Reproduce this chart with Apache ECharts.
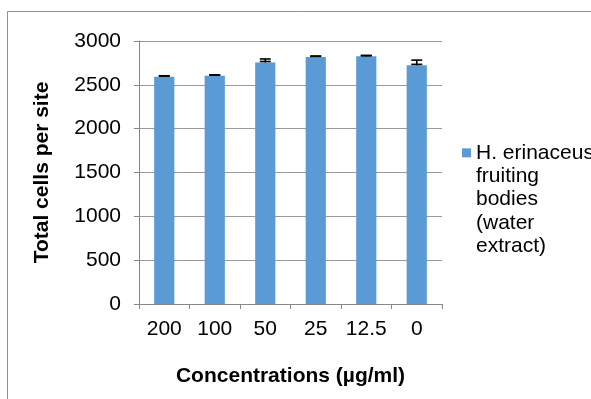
<!DOCTYPE html>
<html>
<head>
<meta charset="utf-8">
<script src="https://cdn.jsdelivr.net/npm/echarts@6/dist/echarts.min.js"></script>
<style>
html,body{margin:0;padding:0;background:#fff;}
#chart{width:591px;height:399px;}
</style>
</head>
<body>
<div id="chart"></div>
<script>
const categories = ['200', '100', '50', '25', '12.5', '0'];
const cellValues = [2592, 2603, 2755, 2817, 2825, 2722];
const cellErrors = [8, 8, 40, 8, 6, 60];
const yTicks = { min: 0, max: 3000, interval: 500 };
const seriesName = 'H. erinaceus fruiting bodies (water extract)';
const legendLines = ['H. erinaceus', 'fruiting', 'bodies', '(water', 'extract)'];

const FONT = 'Liberation Sans, Arial, sans-serif';
const chart = echarts.init(document.getElementById('chart'), null, { renderer: 'canvas' });

const errData = categories.map((c, i) => [i, cellValues[i], cellValues[i] + cellErrors[i]]);
const LH = 23.3;

const option = {
  animation: false,
  backgroundColor: '#fff',
  graphic: [{
    type: 'rect',
    shape: { x: 7.5, y: 11.5, width: 640, height: 450 },
    style: { fill: 'none', stroke: '#8e8e8e', lineWidth: 1 },
    silent: true,
    z: -1
  }],
  grid: { left: 139, right: 149, top: 41, bottom: 95 },
  legend: {
    orient: 'vertical',
    left: 462,
    top: 48,
    padding: 0,
    itemWidth: 9,
    itemHeight: 9,
    icon: 'rect',
    data: [seriesName],
    formatter: () => ' \n \n \n \n' + legendLines.join('\n'),
    textStyle: {
      fontFamily: FONT,
      fontSize: 21,
      lineHeight: LH,
      color: '#000'
    }
  },
  xAxis: {
    type: 'category',
    data: categories,
    name: 'Concentrations (µg/ml)',
    nameLocation: 'middle',
    nameGap: 62,
    nameTextStyle: { fontFamily: FONT, fontSize: 21, fontWeight: 'bold', color: '#000' },
    axisLine: { lineStyle: { color: '#888', width: 1 } },
    axisTick: { show: true, length: 5, lineStyle: { color: '#888' } },
    axisLabel: { fontFamily: FONT, fontSize: 21, color: '#000', margin: 15, interval: 0 },
    splitLine: { show: false }
  },
  yAxis: {
    type: 'value',
    min: yTicks.min,
    max: yTicks.max,
    interval: yTicks.interval,
    name: 'Total cells per site',
    nameLocation: 'middle',
    nameGap: 86,
    nameRotate: 90,
    nameTextStyle: { fontFamily: FONT, fontSize: 21, fontWeight: 'bold', color: '#000' },
    axisLine: { show: true, lineStyle: { color: '#888', width: 1 } },
    axisTick: { show: true, length: 5, lineStyle: { color: '#888' } },
    axisLabel: { fontFamily: FONT, fontSize: 21, color: '#000', margin: 18, formatter: v => String(v) },
    splitLine: { show: true, lineStyle: { color: '#9a9a9a', width: 1 } }
  },
  series: [
    {
      name: seriesName,
      type: 'bar',
      data: cellValues,
      barWidth: '40%',
      itemStyle: { color: '#5B9BD5' }
    },
    {
      name: 'error',
      type: 'custom',
      data: errData,
      z: 10,
      renderItem: function (params, api) {
        const lo = api.coord([api.value(0), api.value(1)]);
        const hi = api.coord([api.value(0), api.value(2)]);
        const half = 5.5;
        const style = { stroke: '#000', lineWidth: 1.6 };
        return {
          type: 'group',
          children: [
            { type: 'line', shape: { x1: lo[0], y1: lo[1], x2: hi[0], y2: hi[1] }, style: style },
            { type: 'line', shape: { x1: hi[0] - half, y1: hi[1], x2: hi[0] + half, y2: hi[1] }, style: style },
            { type: 'line', shape: { x1: lo[0] - half, y1: lo[1] - 1, x2: lo[0] + half, y2: lo[1] - 1 }, style: style }
          ]
        };
      }
    }
  ]
};
chart.setOption(option);
</script>
</body>
</html>
